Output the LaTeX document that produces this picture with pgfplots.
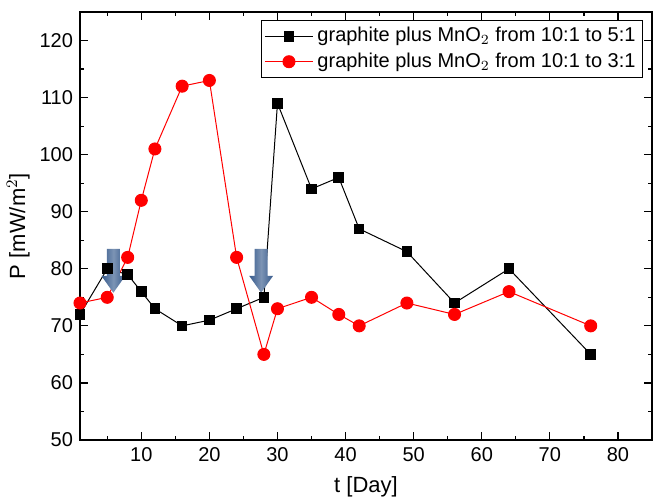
\documentclass[border=0pt]{standalone}
\usepackage{pgfplots}
\pgfplotsset{compat=1.18}
\usepackage{fontspec}
\setmainfont{Liberation Sans}
\definecolor{arrowblue}{HTML}{365A8C}
% block arrow pointing down, tip at (x,y)
\newcommand\blockarrow[2]{%
  \shade[left color=arrowblue, right color=arrowblue, middle color=arrowblue!65!white]
    (axis cs:#1,#2) -- ++(-6pt,8.5pt) -- ++(2.75pt,0pt) -- ++(0pt,13.5pt)
    -- ++(6.5pt,0pt) -- ++(0pt,-13.5pt) -- ++(2.75pt,0pt) -- cycle;}
\begin{document}
\begin{tikzpicture}
\begin{axis}[
  scale only axis,
  width=286pt, height=214pt,
  xmin=1, xmax=85, ymin=50, ymax=125,
  xtick={10,20,...,80}, ytick={50,60,...,120},
  minor xtick={5,15,...,85}, minor ytick={55,65,...,125},
  tick align=inside,
  major tick length=4pt, minor tick length=2pt,
  tick style={black, line width=0.6pt},
  axis line style={line width=0.9pt},
  /pgf/number format/assume math mode=true,
  ticklabel style={font=\fontsize{10}{12}\selectfont},
  xlabel={t [Day]}, ylabel={P [mW/m$^2$]},
  label style={font=\fontsize{11}{13}\selectfont},
  xlabel style={at={(axis description cs:0.5,-0.11)}, anchor=center},
  ylabel style={at={(axis description cs:-0.108,0.5)}, anchor=center},
  legend style={at={(1,1)}, xshift=-4.5pt, yshift=-4pt, anchor=north east,
    font=\fontsize{10}{13}\selectfont, draw=black, line width=0.5pt,
    inner ysep=1.5pt, inner xsep=1.5pt},
  legend cell align=left,
  legend image code/.code={%
    \draw[mark repeat=2,mark phase=2] plot coordinates {(0pt,0pt) (12pt,0pt) (24pt,0pt)};},
  clip=false,
]
\addplot[black, line width=0.5pt, mark=square*, mark size=2.4pt, mark options={solid}] coordinates {
 (1,72) (5,80) (8,79) (10,76) (12,73) (16,70) (20,71) (24,73) (28,75)
 (30,109) (35,94) (39,96) (42,87) (49,83) (56,74) (64,80) (76,65)};
\addlegendentry{graphite plus MnO$_2$ from 10:1 to 5:1}
\addplot[red, line width=0.5pt, mark=*, mark size=3pt, mark options={solid}] coordinates {
 (1,74) (5,75) (8,82) (10,92) (12,101) (16,112) (20,113) (24,82) (28,65)
 (30,73) (35,75) (39,72) (42,70) (49,74) (56,72) (64,76) (76,70)};
\addlegendentry{graphite plus MnO$_2$ from 10:1 to 3:1}
\blockarrow{5.9}{75.8}
\blockarrow{27.6}{75.8}
\end{axis}
\pgfresetboundingbox
\path (current axis.south west) ++(-40pt,-28.5pt) coordinate (bbsw);
\path (current axis.north east) ++(0.5pt,6pt) coordinate (bbne);
\path[use as bounding box] (bbsw) rectangle (bbne);
\end{tikzpicture}
\end{document}
